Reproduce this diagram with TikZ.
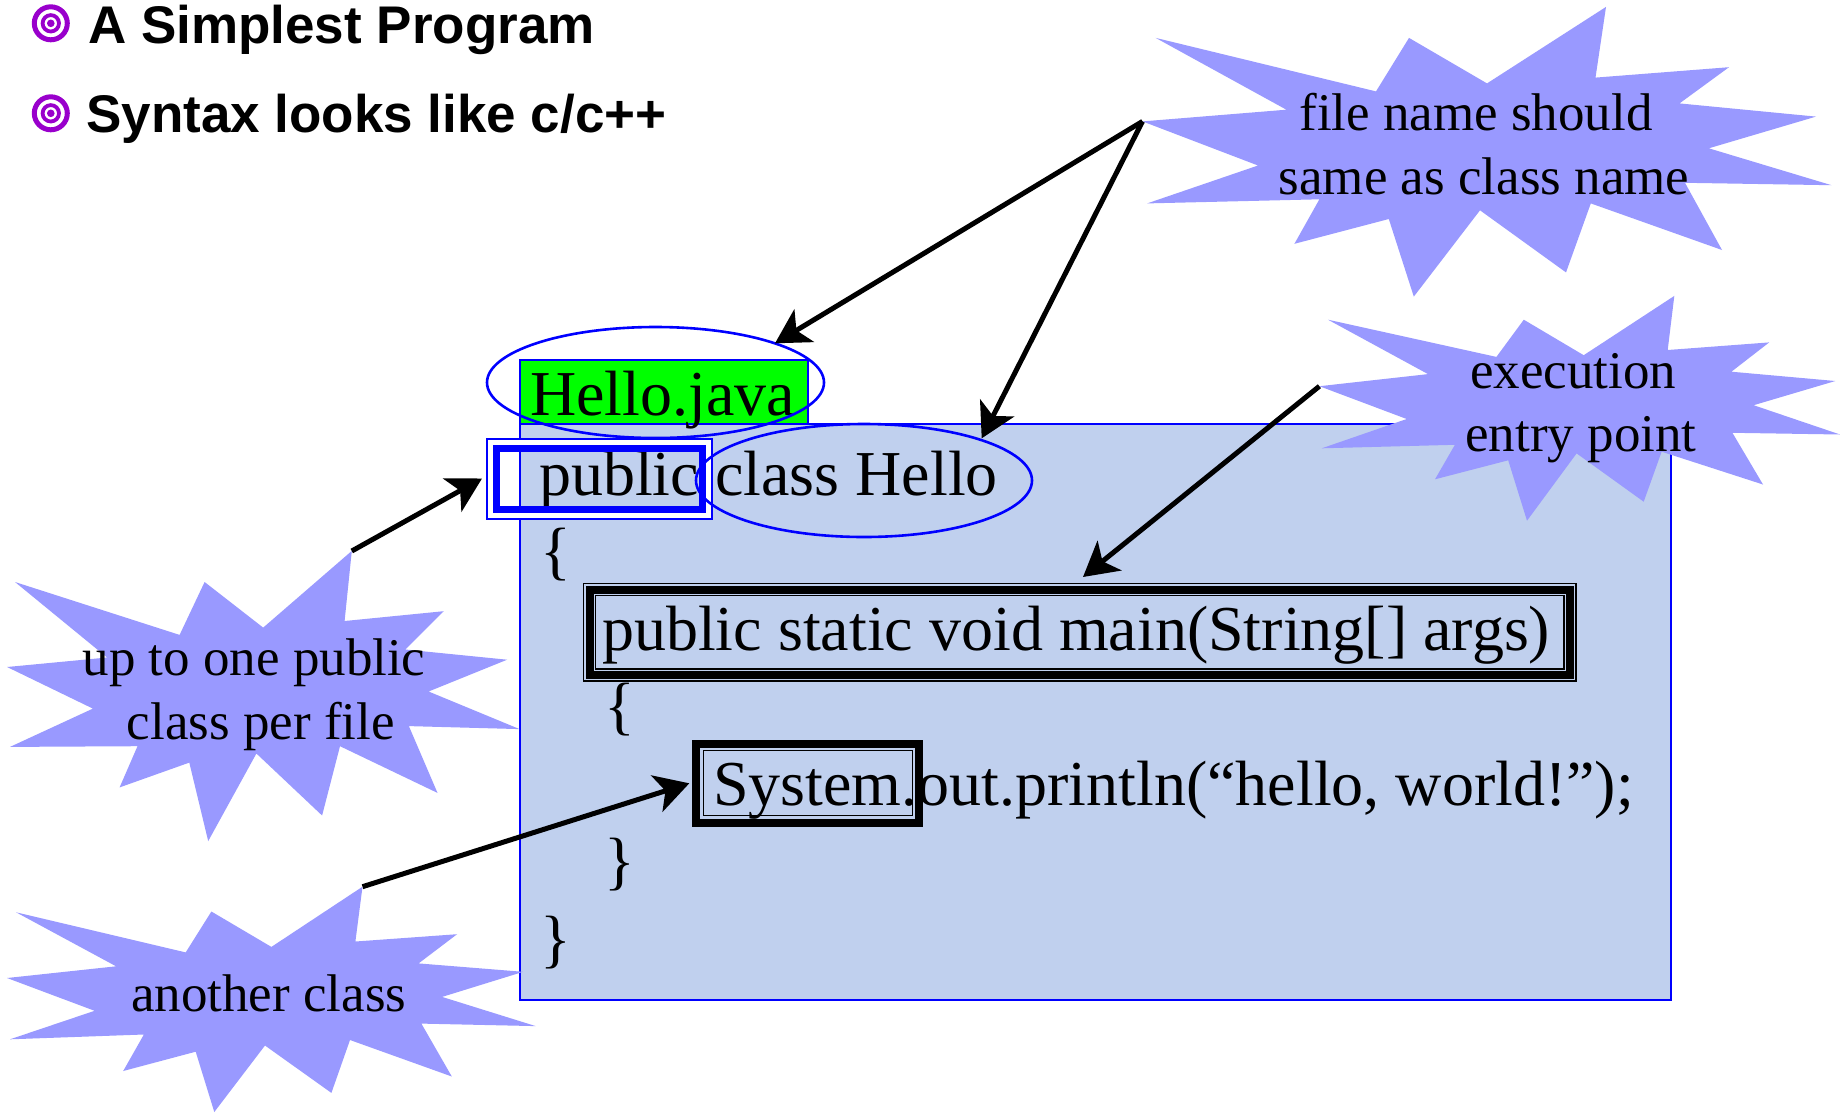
\documentclass[tikz,border=0pt]{standalone}
\usepackage{fontspec}
\setmainfont{Liberation Serif}
\newfontfamily\titlefont{Liberation Sans}
\usetikzlibrary{arrows.meta}
\definecolor{codebg}{RGB}{192,208,238}
\definecolor{starfill}{RGB}{153,153,255}
\definecolor{bulletpurple}{RGB}{153,0,204}
\definecolor{filegreen}{RGB}{0,255,0}
\begin{document}
\begin{tikzpicture}[x=1pt,y=-1pt,
  codetext/.style={anchor=base west, inner sep=0pt, font=\fontsize{64}{77}\selectfont},
  startext/.style={anchor=base, inner sep=0pt, font=\fontsize{53}{64}\selectfont},
  titletext/.style={anchor=base west, inner sep=0pt, font=\titlefont\bfseries\fontsize{53}{64}\selectfont},
  starshape/.style={fill=starfill, draw=none},
  callout/.style={line width=5pt, -{Stealth[length=34pt,width=38pt,inset=9pt]}},
  blueframe/.style={draw=blue, line width=2pt},
  bubble/.style={draw=blue, line width=2.6pt},
  bulletring/.style={draw=bulletpurple, line width=5pt},
  bulletinner/.style={draw=bulletpurple, line width=3.8pt}
]
\useasboundingbox (0,0) rectangle (1840,1112);
\fill[white] (0,0) rectangle (1840,1112);

% title bullets
\draw[bulletring] (50.8,23.3) circle[radius=16.5pt];
\draw[bulletinner] (50.8,23.3) circle[radius=8.2pt];
\fill[bulletpurple] (50.8,23.3) circle[radius=3.8pt];
\draw[bulletring] (50.8,113.3) circle[radius=16.5pt];
\draw[bulletinner] (50.8,113.3) circle[radius=8.2pt];
\fill[bulletpurple] (50.8,113.3) circle[radius=3.8pt];
\node[titletext] (t1) at (88,43.3) {A Simplest Program};
\node[titletext] (t2) at (86,132) {Syntax looks like c/c++};

% code area
\fill[codebg] (519.5,423.5) rectangle (1671,1000);
\draw[blueframe] (519.5,423.5) rectangle (1671,1000);
\fill[filegreen] (519.5,360) rectangle (807.5,423.5);
\draw[blueframe] (519.5,360) rectangle (807.5,423.5);

\node[codetext] (file) at (530,415) {Hello.java};
\node[codetext] (cls) at (539,495) {public class Hello};
\node[codetext] (ob1) at (540,572.5) {\{};
\node[codetext] (mainl) at (602,650) {public static void main(String[] args)};
\node[codetext] (ob2) at (604,727.5) {\{};
\node[codetext] (prt) at (713,805) {System.out.println(“hello, world!”);};
\node[codetext] (cb2) at (604,882.5) {\}};
\node[codetext] (cb1) at (540,960) {\}};

% public box (thin-thick, blue)
\draw[white, line width=7pt] (491,443) rectangle (708,515);
\draw[blue, line width=2pt] (487,439) rectangle (712,519);
\draw[blue, line width=7pt] (496.5,448.5) rectangle (702.5,509.5);

% main box (thin-thick-thin, black)
\draw[black, line width=1.3pt] (583.5,583.5) rectangle (1576,681);
\draw[black, line width=8pt] (589.5,589.5) rectangle (1570,675);
\draw[black, line width=1.3pt] (595.5,595.5) rectangle (1564,669);

% System box (thick-thin, black)
\draw[black, line width=8pt] (696,743.5) rectangle (919,822.5);
\draw[black, line width=1.5pt] (703.5,750.5) rectangle (912.5,815.5);

% ellipses
\draw[bubble] (655.5,382.5) ellipse[x radius=168.5pt, y radius=55.5pt];
\draw[bubble] (864,480.5) ellipse[x radius=168pt, y radius=56.5pt];

% starbursts
\fill[starshape] (1155.7,37.9) -- (1376,91.4) -- (1409,37.9) -- (1487,83.4) -- (1606,6.9) -- (1595.5,77.6) -- (1729,67.2) -- (1679.5,103.4) -- (1816,116.6) -- (1708.8,148.3) -- (1831.5,185.2) -- (1685,182.8) -- (1722,250) -- (1590.8,203.4) -- (1566,272.4) -- (1480,210.3) -- (1413.8,296.6) -- (1388.8,219) -- (1294.4,243.8) -- (1319.4,199.3) -- (1147.2,203.4) -- (1258,165.5) -- (1142.5,121.4) -- (1286.4,109.7) -- cycle;
\fill[starshape] (1328,319.7) -- (1496.4,356.9) -- (1523.8,319.7) -- (1583.7,355.2) -- (1674.3,295.9) -- (1667.7,350) -- (1769.2,342.4) -- (1731.4,371.7) -- (1835.3,381) -- (1753.6,405.2) -- (1840,434.5) -- (1732.4,432.8) -- (1763,484.5) -- (1661.6,451.7) -- (1643.7,501.7) -- (1576.6,453.4) -- (1527,520.7) -- (1508.2,460.3) -- (1435,479.3) -- (1454.9,444.8) -- (1321.8,448.3) -- (1406.7,419) -- (1319.4,386.2) -- (1428,374.1) -- cycle;
\fill[starshape] (351.8,550.9) -- (344.6,621) -- (443.6,611.2) -- (405.4,649.5) -- (507.1,659.7) -- (428.6,691.5) -- (519.6,729.1) -- (408.9,726.1) -- (437.5,792.9) -- (340,746.2) -- (322.1,815.5) -- (256.4,753.5) -- (208.2,841.1) -- (189.3,762.6) -- (119.6,787.4) -- (137.5,746.2) -- (10,746.9) -- (92.9,708.6) -- (7.1,667) -- (107.1,657.5) -- (15,582) -- (179.6,634.9) -- (204.6,582) -- (263.2,627.6) -- cycle;
\fill[starshape] (362.5,886.7) -- (355.4,941.5) -- (457.1,934.2) -- (418.6,963.4) -- (523.2,971.8) -- (442.1,996.9) -- (535.7,1026.1) -- (421.4,1023.6) -- (451.8,1076.5) -- (350,1040) -- (331.4,1092.9) -- (265,1045.5) -- (214.3,1112) -- (195.7,1051.7) -- (123.2,1071) -- (143.9,1034.5) -- (10,1039.3) -- (94.6,1010.8) -- (7.1,978) -- (116.1,966.3) -- (16.1,912.3) -- (185.7,952.4) -- (211.4,911.5) -- (271.4,946.9) -- cycle;

% star texts
\node[startext] (s1a) at (1476,130.3) {file name should};
\node[startext] (s1b) at (1484,194) {same as class name};
\node[startext] (s2a) at (1573,388) {execution};
\node[startext] (s2b) at (1581,451.7) {entry point};
\node[startext] (s3a) at (254,675) {up to one public};
\node[startext] (s3b) at (260.7,739) {class per file};
\node[startext] (s4a) at (268.8,1011) {another class};

% connector end points
\coordinate (fromfile) at (1142.5,121.4);
\coordinate (fromexec) at (1319.4,386.2);
\coordinate (frompub) at (351.8,551);
\coordinate (fromcls) at (362.5,886.7);
\coordinate (tofile) at (775,343.3);
\coordinate (tocls) at (981.7,438.3);
\coordinate (tomain) at (1083,577);
\coordinate (topub) at (482,478.5);
\coordinate (tosys) at (689.3,783.3);

\draw[callout] (fromfile) -- (tofile);
\draw[callout] (fromfile) -- (tocls);
\draw[callout] (fromexec) -- (tomain);
\draw[callout] (frompub) -- (topub);
\draw[callout] (fromcls) -- (tosys);
\end{tikzpicture}
\end{document}
